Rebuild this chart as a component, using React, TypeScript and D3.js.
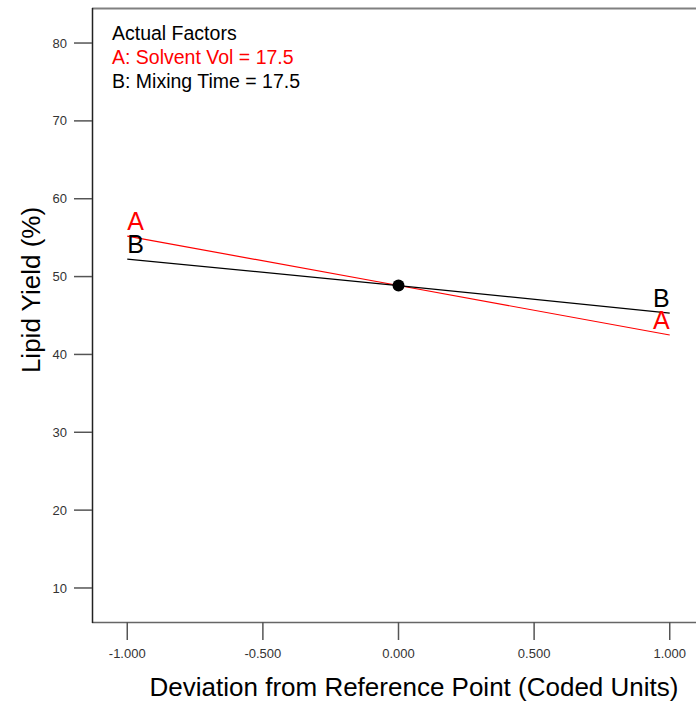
import React from "react";
import * as d3 from "d3";

const xDeviation = [-1, 0, 1];
const seriesA = [55.2, 48.85, 42.5];
const seriesB = [52.25, 48.85, 45.3];
const refPoint = { x: 0, y: 48.85 };
const yTicks = [10, 20, 30, 40, 50, 60, 70, 80];
const xTicks = [-1, -0.5, 0, 0.5, 1];
const legendLines = [
  { text: "Actual Factors", color: "#000" },
  { text: "A: Solvent Vol = 17.5", color: "#ff0000" },
  { text: "B: Mixing Time = 17.5", color: "#000" },
];

const W = 696;
const H = 707;
const left = 92;
const top = 8;
const bottom = 622;
const right = 705;

export default function App() {
  const x = d3.scaleLinear().domain([-1.13, 1.13]).range([left, right]);
  const y = d3.scaleLinear().domain([5.63, 84.5]).range([bottom, top]);
  const line = d3
    .line<number>()
    .x((_, i) => x(xDeviation[i]))
    .y((d) => y(d));
  const font = "'Liberation Sans', Arial, sans-serif";
  const series = [
    { name: "A", vals: seriesA, color: "#ff0000" },
    { name: "B", vals: seriesB, color: "#000" },
  ];
  const n = xDeviation.length - 1;
  return (
    <svg
      width={W}
      height={H}
      style={{ position: "absolute", left: 0, top: 0, background: "#fff" }}
      fontFamily={font}
    >
      <rect x={0} y={0} width={W} height={H} fill="#fff" />
      {/* frame */}
      <line x1={left} x2={W} y1={top + 0.5} y2={top + 0.5} stroke="#808080" strokeWidth={2} />
      <line x1={left} x2={W} y1={bottom + 0.5} y2={bottom + 0.5} stroke="#666" strokeWidth={1.5} />
      <line x1={left + 0.5} x2={left + 0.5} y1={top} y2={bottom + 1} stroke="#222" strokeWidth={1.5} />
      {/* y ticks */}
      {yTicks.map((t) => (
        <g key={"y" + t}>
          <line x1={74} x2={left} y1={y(t)} y2={y(t)} stroke="#555" strokeWidth={1.5} />
          <text x={67} y={y(t)} dy="0.35em" textAnchor="end" fontSize={13} fill="#333">
            {t}
          </text>
        </g>
      ))}
      {/* x ticks */}
      {xTicks.map((t) => (
        <g key={"x" + t}>
          <line x1={x(t)} x2={x(t)} y1={bottom} y2={640} stroke="#555" strokeWidth={1.5} />
          <text x={x(t)} y={653} dy="0.35em" textAnchor="middle" fontSize={13} fill="#333">
            {t.toFixed(3)}
          </text>
        </g>
      ))}
      {/* lines */}
      {series.map((s) => (
        <path key={s.name} d={line(s.vals) || ""} fill="none" stroke={s.color} strokeWidth={1.2} />
      ))}
      {series.map((s) => (
        <g key={"lab" + s.name}>
          <text x={x(xDeviation[0])} y={y(s.vals[0]) - 6} fontSize={25} fill={s.color}>
            {s.name}
          </text>
          <text x={x(xDeviation[n])} y={y(s.vals[n]) - 6} fontSize={25} fill={s.color} textAnchor="end">
            {s.name}
          </text>
        </g>
      ))}
      <circle cx={x(refPoint.x)} cy={y(refPoint.y)} r={6} fill="#000" />
      {/* legend */}
      {legendLines.map((l, i) => (
        <text key={l.text} x={112} y={40 + i * 24} fontSize={19.5} fill={l.color}>
          {l.text}
        </text>
      ))}
      {/* axis titles */}
      <text
        transform={`translate(40,290) rotate(-90)`}
        textAnchor="middle"
        fontSize={26}
        fill="#000"
      >
        Lipid Yield (%)
      </text>
      <text x={414} y={696} textAnchor="middle" fontSize={26} fill="#000">
        Deviation from Reference Point (Coded Units)
      </text>
    </svg>
  );
}
